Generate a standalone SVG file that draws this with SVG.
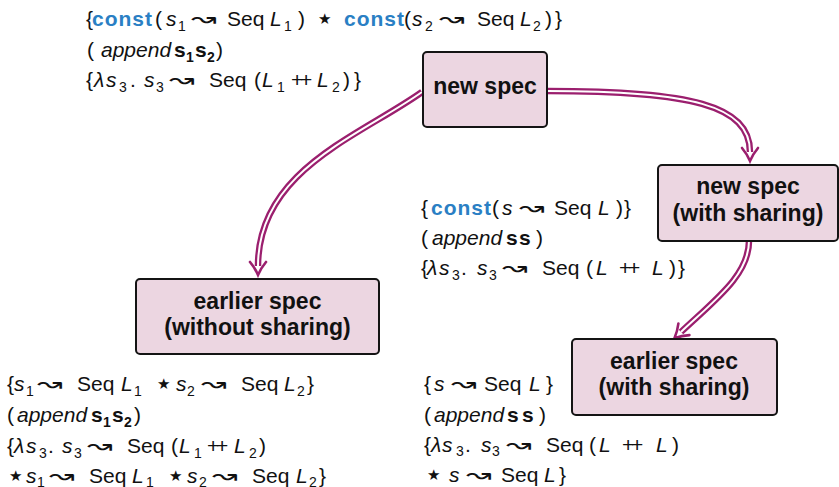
<svg xmlns="http://www.w3.org/2000/svg" width="839" height="487" viewBox="0 0 839 487">
  <style>
    .t { font-family: "Liberation Sans", Arial, sans-serif; font-size: 21px; fill: #111; }
    .i { font-style: italic; }
    .b { font-weight: bold; }
    .k { font-weight: bold; fill: #2a7fc4; letter-spacing: 1px; }
    .s { font-size: 14px; }
    .aw { font-family: "DejaVu Sans", sans-serif; font-size: 22px; font-weight: 200; fill: #111; }
    .st { font-family: "DejaVu Sans", sans-serif; font-size: 15px; }
    .box { fill: #ecd6e1; stroke: #141414; stroke-width: 2; }
    .lbl { font-family: "Liberation Sans", Arial, sans-serif; font-size: 23px; font-weight: bold; fill: #111; text-anchor: middle; }
    .outer { fill: none; stroke: #9b1f6e; stroke-width: 6.5; }
    .inner { fill: none; stroke: #ffffff; stroke-width: 2; }
  </style>
  <defs>
    <marker id="tip" markerUnits="userSpaceOnUse" orient="auto" refX="0" refY="0" markerWidth="30" markerHeight="30" overflow="visible">
      <path d="M -4 -8 Q 2 -3 9 0 Q 2 3 -4 8" fill="none" stroke="#9b1f6e" stroke-width="2.6" stroke-linecap="round" stroke-linejoin="miter"/>
    </marker>
  </defs>

  <!-- connectors: double-line arrows -->
  <g id="connectors">
    <path class="outer" marker-end="url(#tip)" d="M 422 92 C 360 136, 258 170, 258 266"/>
    <path class="inner" d="M 422 92 C 360 136, 258 170, 258 266"/>
    <path class="outer" marker-end="url(#tip)" d="M 547 91 C 690 91, 750 105, 750 152"/>
    <path class="inner" d="M 547 91 C 690 91, 750 105, 750 152"/>
    <path class="outer" marker-end="url(#tip)" d="M 749 241 C 749 275, 715 300, 681 332"/>
    <path class="inner" d="M 749 241 C 749 275, 715 300, 681 332"/>
  </g>

  <!-- nodes -->
  <g id="new-spec">
    <rect class="box" x="423" y="52" width="124" height="75" rx="4"/>
    <text class="lbl" x="485" y="93.5">new spec</text>
  </g>
  <g id="new-spec-sharing">
    <rect class="box" x="658" y="165" width="180" height="76" rx="4"/>
    <text class="lbl" x="748" y="194">new spec</text>
    <text class="lbl" x="748" y="221">(with sharing)</text>
  </g>
  <g id="earlier-spec-no-sharing">
    <rect class="box" x="136" y="279" width="243" height="75" rx="4"/>
    <text class="lbl" x="257.5" y="308.5">earlier spec</text>
    <text class="lbl" x="257.5" y="334.5">(without sharing)</text>
  </g>
  <g id="earlier-spec-sharing">
    <rect class="box" x="572" y="339" width="205" height="76" rx="4"/>
    <text class="lbl" x="674" y="369">earlier spec</text>
    <text class="lbl" x="674" y="395">(with sharing)</text>
  </g>

  <!-- annotation: new spec -->
  <g id="spec-new">
    <text class="t"><tspan x="86" y="26">{</tspan><tspan class="k" x="92" y="26">const</tspan><tspan x="155" y="26">(</tspan><tspan class="i" x="166" y="26">s</tspan><tspan class="s" x="178" y="30.5">1</tspan><tspan x="227" y="26">Seq</tspan><tspan class="i" x="270" y="26">L</tspan><tspan class="s" x="284" y="30.5">1</tspan><tspan x="298" y="26">)</tspan><tspan class="st" x="318" y="24">★</tspan><tspan class="k" x="344" y="26">const</tspan><tspan x="404" y="26">(</tspan><tspan class="i" x="412" y="26">s</tspan><tspan class="s" x="425" y="30.5">2</tspan><tspan x="477" y="26">Seq</tspan><tspan class="i" x="520" y="26">L</tspan><tspan class="s" x="533" y="30.5">2</tspan><tspan x="545" y="26">)</tspan><tspan x="555" y="26">}</tspan></text>
    <text class="aw" x="191" y="26" textLength="25" lengthAdjust="spacingAndGlyphs">↝</text>
    <text class="aw" x="439" y="26" textLength="25" lengthAdjust="spacingAndGlyphs">↝</text>
    <text class="t"><tspan x="87" y="57">(</tspan><tspan class="i" x="101" y="57">append</tspan><tspan class="b" x="174" y="57">s</tspan><tspan class="b s" x="186" y="61.5">1</tspan><tspan class="b" x="195" y="57">s</tspan><tspan class="b s" x="207" y="61.5">2</tspan><tspan x="216" y="57">)</tspan></text>
    <text class="t"><tspan x="86" y="87">{</tspan><tspan class="i" x="94" y="87">λ</tspan><tspan class="i" x="106" y="87">s</tspan><tspan class="s" x="119" y="91.5">3</tspan><tspan x="130" y="87">.</tspan><tspan class="i" x="144" y="87">s</tspan><tspan class="s" x="156" y="91.5">3</tspan><tspan x="209" y="87">Seq</tspan><tspan x="254" y="87">(</tspan><tspan class="i" x="262" y="87">L</tspan><tspan class="s" x="277" y="91.5">1</tspan><tspan x="291" y="87">+</tspan><tspan x="300" y="87">+</tspan><tspan class="i" x="317" y="87">L</tspan><tspan class="s" x="332" y="91.5">2</tspan><tspan x="343" y="87">)</tspan><tspan x="354" y="87">}</tspan></text>
    <text class="aw" x="169" y="87" textLength="25" lengthAdjust="spacingAndGlyphs">↝</text>
  </g>

  <!-- annotation: new spec with sharing -->
  <g id="spec-new-sharing">
    <text class="t"><tspan x="421" y="215">{</tspan><tspan class="k" x="431" y="215">const</tspan><tspan x="492" y="215">(</tspan><tspan class="i" x="502" y="215">s</tspan><tspan x="554" y="215">Seq</tspan><tspan class="i" x="598" y="215">L</tspan><tspan x="616" y="215">)</tspan><tspan x="624" y="215">}</tspan></text>
    <text class="aw" x="519" y="215" textLength="25" lengthAdjust="spacingAndGlyphs">↝</text>
    <text class="t"><tspan x="421" y="245">(</tspan><tspan class="i" x="432" y="245">append</tspan><tspan class="b" x="506" y="245">s</tspan><tspan class="b" x="519" y="245">s</tspan><tspan x="536" y="245">)</tspan></text>
    <text class="t"><tspan x="421" y="275">{</tspan><tspan class="i" x="427" y="275">λ</tspan><tspan class="i" x="439" y="275">s</tspan><tspan class="s" x="452" y="279.5">3</tspan><tspan x="461" y="275">.</tspan><tspan class="i" x="477" y="275">s</tspan><tspan class="s" x="489" y="279.5">3</tspan><tspan x="542" y="275">Seq</tspan><tspan x="586" y="275">(</tspan><tspan class="i" x="596" y="275">L</tspan><tspan x="619" y="275">+</tspan><tspan x="628" y="275">+</tspan><tspan class="i" x="652" y="275">L</tspan><tspan x="669" y="275">)</tspan><tspan x="678" y="275">}</tspan></text>
    <text class="aw" x="502" y="275" textLength="25" lengthAdjust="spacingAndGlyphs">↝</text>
  </g>

  <!-- annotation: earlier spec without sharing -->
  <g id="spec-earlier">
    <text class="t"><tspan x="7" y="391">{</tspan><tspan class="i" x="14" y="391">s</tspan><tspan class="s" x="26" y="395.5">1</tspan><tspan x="77" y="391">Seq</tspan><tspan class="i" x="121" y="391">L</tspan><tspan class="s" x="134" y="395.5">1</tspan><tspan class="st" x="157" y="389">★</tspan><tspan class="i" x="176" y="391">s</tspan><tspan class="s" x="187" y="395.5">2</tspan><tspan x="241" y="391">Seq</tspan><tspan class="i" x="284" y="391">L</tspan><tspan class="s" x="297" y="395.5">2</tspan><tspan x="307" y="391">}</tspan></text>
    <text class="aw" x="37" y="391" textLength="25" lengthAdjust="spacingAndGlyphs">↝</text>
    <text class="aw" x="201" y="391" textLength="25" lengthAdjust="spacingAndGlyphs">↝</text>
    <text class="t"><tspan x="7" y="422">(</tspan><tspan class="i" x="17" y="422">append</tspan><tspan class="b" x="91" y="422">s</tspan><tspan class="b s" x="103" y="426.5">1</tspan><tspan class="b" x="112" y="422">s</tspan><tspan class="b s" x="124" y="426.5">2</tspan><tspan x="134" y="422">)</tspan></text>
    <text class="t"><tspan x="7" y="453">{</tspan><tspan class="i" x="14" y="453">λ</tspan><tspan class="i" x="26" y="453">s</tspan><tspan class="s" x="39" y="457.5">3</tspan><tspan x="48" y="453">.</tspan><tspan class="i" x="62" y="453">s</tspan><tspan class="s" x="74" y="457.5">3</tspan><tspan x="127" y="453">Seq</tspan><tspan x="171" y="453">(</tspan><tspan class="i" x="179" y="453">L</tspan><tspan class="s" x="194" y="457.5">1</tspan><tspan x="207" y="453">+</tspan><tspan x="216" y="453">+</tspan><tspan class="i" x="234" y="453">L</tspan><tspan class="s" x="249" y="457.5">2</tspan><tspan x="259" y="453">)</tspan></text>
    <text class="aw" x="87" y="453" textLength="25" lengthAdjust="spacingAndGlyphs">↝</text>
    <text class="t"><tspan class="st" x="9" y="480.5">★</tspan><tspan class="i" x="26" y="482.5">s</tspan><tspan class="s" x="37" y="486.5">1</tspan><tspan x="89" y="482.5">Seq</tspan><tspan class="i" x="132" y="482.5">L</tspan><tspan class="s" x="146" y="486.5">1</tspan><tspan class="st" x="169" y="480.5">★</tspan><tspan class="i" x="187" y="482.5">s</tspan><tspan class="s" x="199" y="486.5">2</tspan><tspan x="252" y="482.5">Seq</tspan><tspan class="i" x="296" y="482.5">L</tspan><tspan class="s" x="309" y="486.5">2</tspan><tspan x="319" y="482.5">}</tspan></text>
    <text class="aw" x="49" y="482.5" textLength="25" lengthAdjust="spacingAndGlyphs">↝</text>
    <text class="aw" x="212" y="482.5" textLength="25" lengthAdjust="spacingAndGlyphs">↝</text>
  </g>

  <!-- annotation: earlier spec with sharing -->
  <g id="spec-earlier-sharing">
    <text class="t"><tspan x="424" y="391">{</tspan><tspan class="i" x="434" y="391">s</tspan><tspan x="484" y="391">Seq</tspan><tspan class="i" x="529" y="391">L</tspan><tspan x="546" y="391">}</tspan></text>
    <text class="aw" x="451" y="391" textLength="25" lengthAdjust="spacingAndGlyphs">↝</text>
    <text class="t"><tspan x="424" y="421.5">(</tspan><tspan class="i" x="434" y="421.5">append</tspan><tspan class="b" x="507" y="421.5">s</tspan><tspan class="b" x="522" y="421.5">s</tspan><tspan x="539" y="421.5">)</tspan></text>
    <text class="t"><tspan x="424" y="451.5">{</tspan><tspan class="i" x="431" y="451.5">λ</tspan><tspan class="i" x="442" y="451.5">s</tspan><tspan class="s" x="456" y="456">3</tspan><tspan x="465" y="451.5">.</tspan><tspan class="i" x="481" y="451.5">s</tspan><tspan class="s" x="492" y="456">3</tspan><tspan x="546" y="451.5">Seq</tspan><tspan x="589" y="451.5">(</tspan><tspan class="i" x="599" y="451.5">L</tspan><tspan x="622" y="451.5">+</tspan><tspan x="631" y="451.5">+</tspan><tspan class="i" x="656" y="451.5">L</tspan><tspan x="672" y="451.5">)</tspan></text>
    <text class="aw" x="506" y="451.5" textLength="25" lengthAdjust="spacingAndGlyphs">↝</text>
    <text class="t"><tspan class="st" x="427" y="479.5">★</tspan><tspan class="i" x="449" y="481.5">s</tspan><tspan x="501" y="481.5">Seq</tspan><tspan class="i" x="544" y="481.5">L</tspan><tspan x="559" y="481.5">}</tspan></text>
    <text class="aw" x="466" y="481.5" textLength="25" lengthAdjust="spacingAndGlyphs">↝</text>
  </g>
</svg>
